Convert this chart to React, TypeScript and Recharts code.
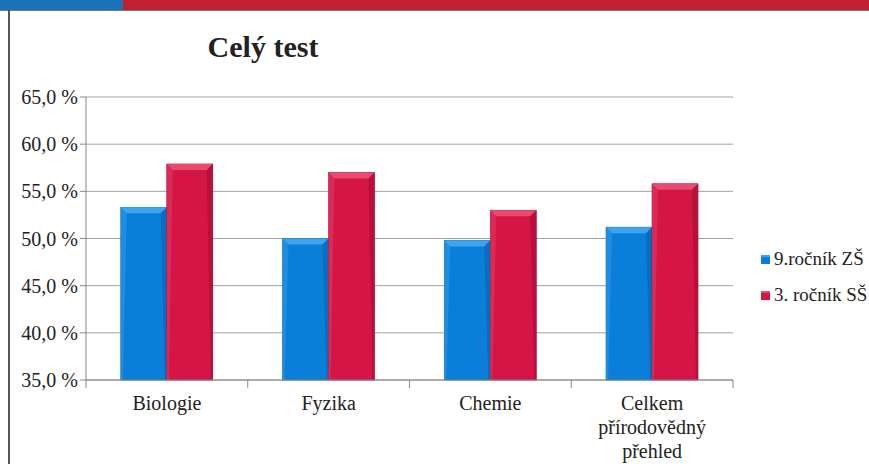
import React from 'react';
import { BarChart, Bar, XAxis, YAxis, CartesianGrid } from 'recharts';

const categories = ['Biologie', 'Fyzika', 'Chemie', 'Celkem přírodovědný přehled'];
const categoryLines = [['Biologie'], ['Fyzika'], ['Chemie'], ['Celkem', 'přírodovědný', 'přehled']];
const zsValues = [53.3, 50.0, 49.8, 51.2];
const ssValues = [57.9, 57.0, 53.0, 55.8];
const seriesNames = ['9.ročník ZŠ', '3. ročník SŠ'];
const yTicks = [35, 40, 45, 50, 55, 60, 65];
const title = 'Celý test';

const data = categories.map((c, i) => ({ cat: c, idx: i, zs: zsValues[i], ss: ssValues[i] }));

const W = 869;
const H = 464;
const M_TOP = 97;
const M_RIGHT = 136;
const Y_W = 86;
const X_H = 84;
const PLOT_BOTTOM = H - X_H;
const BAND = (W - M_RIGHT - Y_W) / categories.length;
const FONT = "'Times New Roman', Tinos, 'Liberation Serif', monospace";

const BLUE = { base: '#0a7fd9', light: '#3fa3ee', dark: '#0662ab' };
const RED = { base: '#d41545', light: '#e84a70', dark: '#a30f33' };

const makeShape = (c: { base: string; light: string; dark: string }) => (props: any) => {
  const { x, y, width, height } = props;
  if (!height || height <= 0) return null;
  const b = Math.min(6, width / 4, height / 2);
  return (
    <g>
      <rect x={x} y={y} width={width} height={height} fill={c.base} stroke={c.dark} strokeWidth={0.6} />
      <polygon points={`${x},${y} ${x + width},${y} ${x + width - b},${y + b} ${x + b},${y + b}`} fill={c.light} />
      <polygon points={`${x + width},${y} ${x + width},${y + height} ${x + width - 2},${y + height} ${x + width - b},${y + b}`} fill={c.dark} opacity={0.6} />
      <polygon points={`${x},${y} ${x + b},${y + b} ${x + 2},${y + height} ${x},${y + height}`} fill={c.light} opacity={0.4} />
    </g>
  );
};

const XTick = (props: any) => {
  const { x, payload, index } = props;
  const lines = categoryLines[payload.index ?? index] || [payload.value];
  const left = x - BAND / 2;
  const right = x + BAND / 2;
  return (
    <g>
      <line x1={left} y1={PLOT_BOTTOM} x2={left} y2={PLOT_BOTTOM + 8} stroke="#888" />
      {index === categories.length - 1 && (
        <line x1={right} y1={PLOT_BOTTOM} x2={right} y2={PLOT_BOTTOM + 8} stroke="#888" />
      )}
      <text x={x} y={PLOT_BOTTOM + 30} textAnchor="middle" fill="#222" fontSize={20} fontFamily={FONT} style={{ fontFamily: FONT }}>
        {lines.map((l: string, i: number) => (
          <tspan key={i} x={x} dy={i === 0 ? 0 : 24}>{l}</tspan>
        ))}
      </text>
    </g>
  );
};

const fmt = (v: number) => v.toFixed(1).replace('.', ',') + ' %';

const YTick = (props: any) => {
  const { x, y, payload } = props;
  return (
    <text x={x} y={y} dy={7} textAnchor="end" fill="#222" fontSize={20} fontFamily={FONT} style={{ fontFamily: FONT }}>
      {fmt(payload.value)}
    </text>
  );
};

export default function App() {
  return (
    <div style={{ position: 'absolute', left: 0, top: 0, width: W, height: H, overflow: 'hidden', background: '#fff', fontFamily: FONT }}>
      <div style={{ position: 'absolute', left: 0, top: 0, fontFamily: FONT }}>
        <BarChart width={W} height={H} data={data} margin={{ top: M_TOP, right: M_RIGHT, bottom: 0, left: 0 }} barGap={0} barCategoryGap="21.5%" style={{ fontFamily: FONT }}>
          <CartesianGrid vertical={false} stroke="#a0a0a0" />
          <YAxis
            width={Y_W}
            domain={[35, 65]}
            ticks={yTicks}
            axisLine={{ stroke: '#888' }}
            tickLine={{ stroke: '#888' }}
            tick={<YTick />}
            interval={0}
          />
          <XAxis
            dataKey="cat"
            height={X_H}
            axisLine={{ stroke: '#888' }}
            tickLine={false}
            tick={<XTick />}
            interval={0}
          />
          <Bar dataKey="zs" name={seriesNames[0]} fill={BLUE.base} shape={makeShape(BLUE)} isAnimationActive={false} />
          <Bar dataKey="ss" name={seriesNames[1]} fill={RED.base} shape={makeShape(RED)} isAnimationActive={false} />
        </BarChart>
      </div>
      <div style={{ position: 'absolute', left: 0, top: 0, width: 123, height: 10, background: '#1a72bb' }} />
      <div style={{ position: 'absolute', left: 123, top: 0, width: W - 123, height: 10, background: '#c1202f' }} />
      <div style={{ position: 'absolute', left: 0, top: 10, width: W, height: 1, background: '#777' }} />
      <div style={{ position: 'absolute', left: 8, top: 10, width: 1.5, height: H - 10, background: '#555' }} />
      <div style={{ position: 'absolute', left: 160, top: 31, width: 206, textAlign: 'center', fontWeight: 'bold', fontSize: 30, color: '#222', lineHeight: '32px', fontFamily: FONT }}>
        {title}
      </div>
      <div style={{ position: 'absolute', left: 761, top: 241, fontSize: 19, color: '#222', fontFamily: FONT }}>
        {seriesNames.map((n, i) => (
          <div key={n} style={{ display: 'flex', alignItems: 'center', height: 36, whiteSpace: 'nowrap' }}>
            <span style={{ display: 'inline-block', width: 9, height: 9, marginRight: 4, background: i === 0 ? BLUE.base : RED.base, boxShadow: `inset 0 2px 0 ${i === 0 ? BLUE.light : RED.light}` }} />
            {n}
          </div>
        ))}
      </div>
    </div>
  );
}
